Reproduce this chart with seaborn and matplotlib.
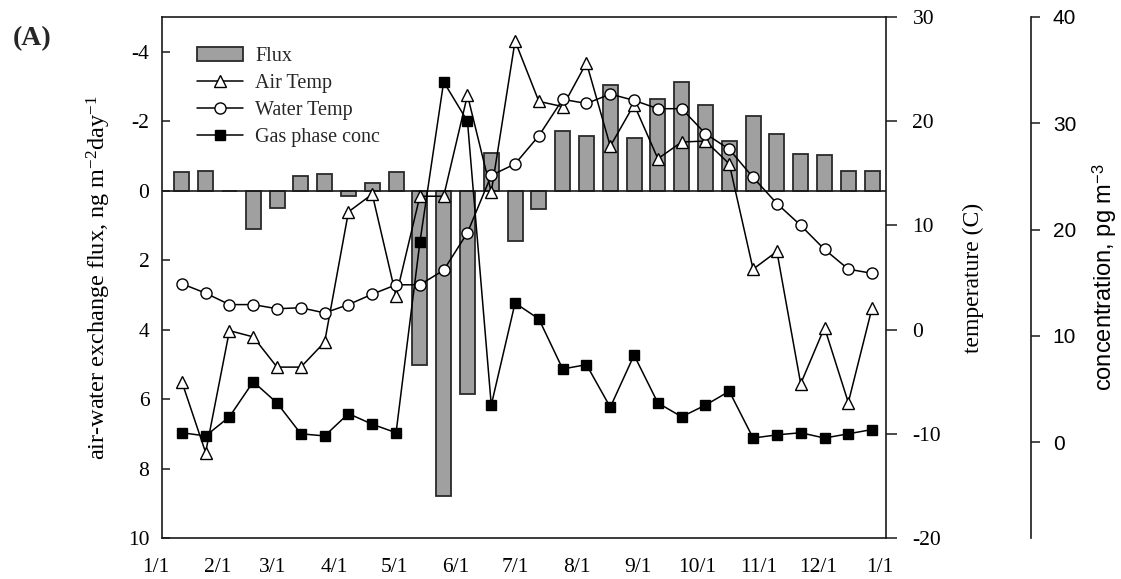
import matplotlib
matplotlib.use("Agg")
import matplotlib.pyplot as plt
from matplotlib.lines import Line2D
from matplotlib.patches import Patch
from matplotlib.transforms import ScaledTranslation
import seaborn as sns

# Sampling days (day of year), one sample every 12 days
sample_day = [10, 22, 34, 46, 58, 70, 82, 94, 106, 118, 130, 142, 154, 166, 178,
              190, 202, 214, 226, 238, 250, 262, 274, 286, 298, 310, 322, 334, 346, 358]

# Air-water exchange flux, ng m-2 day-1 (negative = volatilization)
flux = [-0.55, -0.58, 0.02, 1.09, 0.49, -0.42, -0.49, 0.16, -0.23, -0.54,
        5.02, 8.79, 5.84, -1.08, 1.46, 0.54, -1.73, -1.58, -3.05, -1.51,
        -2.64, -3.14, -2.48, -1.42, -2.15, -1.62, -1.05, -1.02, -0.56, -0.56]

# Temperatures, deg C
air_temp = [-5.0, -11.8, -0.1, -0.7, -3.6, -3.6, -1.2, 11.3, 13.0, 3.2,
            12.8, 12.8, 22.5, 13.2, 27.7, 21.9, 21.4, 25.6, 17.6, 21.6,
            16.4, 18.0, 18.1, 15.9, 5.8, 7.5, -5.2, 0.2, -7.0, 2.1]

water_temp = [4.4, 3.5, 2.4, 2.4, 2.0, 2.1, 1.6, 2.4, 3.4, 4.3,
              4.3, 5.7, 9.3, 14.8, 15.9, 18.6, 22.1, 21.7, 22.6, 22.0,
              21.2, 21.2, 18.8, 17.3, 14.6, 12.1, 10.0, 7.7, 5.8, 5.4]

# Gas phase concentration, pg m-3
gas_conc = [0.9, 0.6, 2.4, 5.7, 3.7, 0.8, 0.6, 2.7, 1.7, 0.9,
            18.8, 33.9, 30.2, 3.5, 13.1, 11.6, 6.9, 7.3, 3.3, 8.2,
            3.7, 2.4, 3.5, 4.8, 0.4, 0.7, 0.9, 0.4, 0.8, 1.2]

month_start = [0, 31, 59, 90, 120, 151, 181, 212, 243, 273, 304, 334, 365]
month_labels = ["1/1", "2/1", "3/1", "4/1", "5/1", "6/1", "7/1",
                "8/1", "9/1", "10/1", "11/1", "12/1", "1/1"]

flux_ticks = [-4, -2, 0, 2, 4, 6, 8, 10]
temp_ticks = [-20, -10, 0, 10, 20, 30]
conc_ticks = [0, 10, 20, 30, 40]

sns.set_theme(style="ticks")
plt.rcParams["font.family"] = ["Liberation Serif", "DejaVu Serif"]
plt.rcParams["axes.unicode_minus"] = False
plt.rcParams["mathtext.fontset"] = "custom"
plt.rcParams["mathtext.rm"] = "Liberation Serif"
plt.rcParams["mathtext.it"] = "Liberation Serif:italic"
plt.rcParams["mathtext.sf"] = "Liberation Sans"

INK = "#1a1a1a"
BAR_FACE = "#a0a0a0"
BAR_EDGE = "#2a2a2a"
TICK_FS = 15.5
LABEL_FS = 17
LEGEND_FS = 14.5

fig = plt.figure(figsize=(11.21, 5.79), dpi=100)
ax = fig.add_axes([0.14451, 0.07081, 0.64585, 0.89983])
par1 = ax.twinx()
par2 = ax.twinx()

# Flux bars
sns.barplot(x=sample_day, y=flux, native_scale=True, width=0.63,
            color=BAR_FACE, edgecolor=BAR_EDGE, linewidth=1.3,
            saturation=1, errorbar=None, ax=ax)
ax.axhline(0, color=INK, lw=1.2, zorder=5)

line_kw = dict(color="black", linewidth=1.1, markeredgecolor="black",
               markeredgewidth=1.0, sort=False)

# Temperatures
sns.lineplot(x=sample_day, y=air_temp, marker="^", markersize=8.5,
             markerfacecolor="white", ax=par1, **line_kw)
sns.lineplot(x=sample_day, y=water_temp, marker="o", markersize=8,
             markerfacecolor="white", ax=par1, **line_kw)

# Gas phase concentration
sns.lineplot(x=sample_day, y=gas_conc, marker="s", markersize=7.5,
             markerfacecolor="black", ax=par2, **line_kw)

# Axis ticks first, then ranges (setting ticks can widen the view)
ax.set_xticks(month_start)
ax.set_xticklabels(month_labels)
ax.set_yticks(flux_ticks)
ax.set_yticklabels([str(t) for t in flux_ticks])
par1.set_yticks(temp_ticks)
par1.set_yticklabels([str(t) for t in temp_ticks])
par2.set_yticks(conc_ticks)
par2.set_yticklabels([str(t) for t in conc_ticks])
ax.set_xlim(0, 365)
ax.set_ylim(10, -5)
par1.set_ylim(-20, 30)
par2.set_ylim(-9, 40)
ax.set_xlabel("")

# Spines
for name in ["top", "left", "bottom"]:
    ax.spines[name].set_visible(True)
    ax.spines[name].set_color(INK)
    ax.spines[name].set_linewidth(1.2)
ax.spines["right"].set_visible(False)
for p in (par1, par2):
    for name in ["top", "left", "bottom"]:
        p.spines[name].set_visible(False)
    p.spines["right"].set_visible(True)
    p.spines["right"].set_color(INK)
    p.spines["right"].set_linewidth(1.2)
par2.spines["right"].set_position(("axes", 1.2003))

ax.tick_params(axis="y", direction="in", length=5.8, width=1.1, color=INK,
               pad=9.0, labelsize=TICK_FS, labelcolor="black")
ax.tick_params(axis="x", length=0, pad=14.5, labelsize=TICK_FS,
               labelcolor="black")
par1.tick_params(axis="y", direction="out", length=8, width=1.1, color=INK,
                 pad=11.0, labelsize=TICK_FS, labelcolor="black")
par2.tick_params(axis="y", direction="out", length=6.7, width=1.1, color=INK,
                 pad=9.0, labelsize=15, labelcolor="black")
for lab in par2.get_yticklabels():
    lab.set_fontfamily("Liberation Sans")

# Date labels sit slightly left of their day position
shift = ScaledTranslation(-6 / 100, 0, fig.dpi_scale_trans)
for lab in ax.get_xticklabels():
    lab.set_transform(lab.get_transform() + shift)

# Axis titles
ax.set_ylabel("air-water exchange flux, ng m$^{-2}$day$^{-1}$",
              fontsize=17.5, color="black")
ax.yaxis.set_label_coords(-0.068, 0.5)
par1.set_ylabel("temperature (C)", fontsize=LABEL_FS, color="black")
par1.yaxis.set_label_coords(1.106, 0.5)
par2.set_ylabel("concentration, pg m$^{\\mathsf{-3}}$", fontsize=LABEL_FS,
                fontfamily="Liberation Sans", color="black")
par2.yaxis.set_label_coords(1.282, 0.5)

# Legend
handles = [
    Patch(facecolor=BAR_FACE, edgecolor=BAR_EDGE, linewidth=1.3),
    Line2D([], [], color="black", lw=1.1, marker="^", markersize=8.5,
           markerfacecolor="white", markeredgecolor="black"),
    Line2D([], [], color="black", lw=1.1, marker="o", markersize=8,
           markerfacecolor="white", markeredgecolor="black"),
    Line2D([], [], color="black", lw=1.1, marker="s", markersize=7.5,
           markerfacecolor="black", markeredgecolor="black"),
]
labels = ["Flux", "Air Temp", "Water Temp", "Gas phase conc"]
par2.legend(handles, labels, loc="upper left", bbox_to_anchor=(0.048, 0.943),
            frameon=False, fontsize=LEGEND_FS, borderpad=0, borderaxespad=0,
            handlelength=2.3, handletextpad=0.6, labelspacing=0.4)

fig.text(0.0116, 0.9326, "(A)", fontsize=20, fontweight="bold",
         va="center", ha="left")

fig.savefig("out.png", dpi=100)
